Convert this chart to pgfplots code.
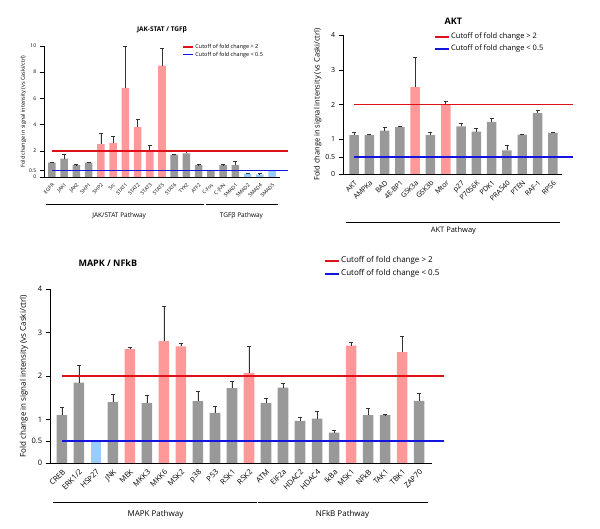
\documentclass[border=0pt]{standalone}
\usepackage{pgfplots}
\pgfplotsset{compat=1.18}
\usepackage{fontspec}
\setmainfont{Open Sans}
\usetikzlibrary{calc}
\definecolor{barg}{HTML}{999999}
\definecolor{barr}{HTML}{FF9999}
\definecolor{barb}{HTML}{99CCFF}
\definecolor{lred}{HTML}{E01018}
\definecolor{lblue}{HTML}{1414E0}
\pgfplotsset{
 common/.style={scale only axis, axis lines=left, ymin=0, clip=false,
  /pgf/number format/assume math mode=true,
  tick align=outside, xtick style={draw=none}, ytick style={black},
  axis line style={black,-}, x tick label style={rotate=45,anchor=north east,inner sep=1pt},
  error bars/y dir=plus, error bars/y explicit,
  error bars/error bar style={black!80,line width=0.7pt},
  error bars/error mark options={rotate=90,mark size=2pt,black!80,line width=0.7pt}},
 gb/.style={ybar,bar width=0.62,fill=barg,draw=none,bar shift=0pt,forget plot},
 rb/.style={ybar,bar width=0.62,fill=barr,draw=none,bar shift=0pt,forget plot},
 bb/.style={ybar,bar width=0.62,fill=barb,draw=none,bar shift=0pt,forget plot},
}
\newcommand{\cutlegend}[5]{%
  \fill[fill=lred] ($(#1)+(0,-#3*0.5-#5*0.5)$) rectangle ++(#4,#5);
  \node[anchor=west,font=#2,inner sep=0pt] at ($(#1)+(#4+2pt,-#3*0.5)$) {Cutoff of fold change > 2};
  \fill[fill=lblue] ($(#1)+(0,-#3*1.5-#5*0.5)$) rectangle ++(#4,#5);
  \node[anchor=west,font=#2,inner sep=0pt] at ($(#1)+(#4+2pt,-#3*1.5)$) {Cutoff of fold change < 0.5};
}
\newcommand{\cutlines}[3]{%
  \fill[fill=lred] ($(axis cs:#1,2)+(0,-#3)$) rectangle ($(axis cs:#2,2)+(0,#3)$);
  \fill[fill=lblue] ($(axis cs:#1,0.5)+(0,-#3)$) rectangle ($(axis cs:#2,0.5)+(0,#3)$);
}
\begin{document}
\begin{tikzpicture}
\path (0,0) rectangle (600pt,529pt);
% ---------- JAK-STAT ----------
\begin{axis}[common, at={(44pt,352pt)}, anchor=south west, width=236pt, height=131pt,
 ymax=10, xmin=-0.65, xmax=18.65, ytick={0,0.5,2,4,6,8,10}, xtick={0,...,18},
 yticklabel style={font=\fontsize{5}{6}\selectfont},
 xticklabel style={font=\fontsize{5}{6}\selectfont},
 xticklabels={EGFR,JAK1,JAK2,SHP1,SHP2,Src,STAT1,STAT2,STAT3,STAT5,STAT6,TYK2,ATF2,C-Fos,C-JUN,SMAD1,SMAD2,SMAD4,SMAD5},
 ylabel={Fold change in signal intensity (vs Caski/ctrl)}, ylabel style={font=\fontsize{5.5}{6}\selectfont, yshift=-4pt}]
\addplot[gb] coordinates {(0,1.1)+-(0,0.05) (1,1.4)+-(0,0.3) (2,0.9)+-(0,0.05) (3,1.1)+-(0,0.05) (10,1.7)+-(0,0.03) (11,1.8)+-(0,0.2) (12,0.9)+-(0,0.05) (13,0.5)+-(0,0.02) (14,0.9)+-(0,0.05) (15,0.9)+-(0,0.3)};
\addplot[rb] coordinates {(4,2.5)+-(0,0.8) (5,2.6)+-(0,0.5) (6,6.8)+-(0,3.2) (7,3.8)+-(0,0.6) (8,2.0)+-(0,0.45) (9,8.5)+-(0,1.3)};
\addplot[bb] coordinates {(16,0.25)+-(0,0.05) (17,0.2)+-(0,0.04) (18,0.5)+-(0,0.04)};
\cutlines{-0.65}{18.65}{0.8pt}
\draw[line width=0.7pt] (axis cs:-0.5,-2.06) -- (axis cs:12.4,-2.06);
\draw[line width=0.7pt] (axis cs:12.6,-2.06) -- (axis cs:18.5,-2.06);
\node[font=\fontsize{6.5}{7}\selectfont] at (axis cs:5.5,-2.95) {JAK/STAT Pathway};
\node[font=\fontsize{6.5}{7}\selectfont] at (axis cs:15.5,-2.95) {TGFβ Pathway};
\node[font=\bfseries\fontsize{6.5}{7}\selectfont] at (axis cs:9,11.2) {JAK-STAT / TGFβ};
\coordinate (L1) at (rel axis cs:0.59,1.02);
\end{axis}
\cutlegend{L1}{\fontsize{5.5}{7}\selectfont}{7.5pt}{10pt}{1.6pt}
% ---------- AKT ----------
\begin{axis}[common, at={(343pt,355pt)}, anchor=south west, width=219pt, height=139pt,
 ymax=4, xmin=-0.72, xmax=13.6, ytick={0,0.5,1,2,3,4}, xtick={0,...,13},
 yticklabel style={font=\fontsize{7}{8}\selectfont},
 xticklabel style={font=\fontsize{7}{8}\selectfont},
 xticklabels={AKT,AMPKa,BAD,4E-BP1,GSK3a,GSK3b,Mtor,p27,P70S6K,PDK1,PRAS40,PTEN,RAF-1,RPS6},
 ylabel={Fold change in signal intensity (vs Caski/ctrl)}, ylabel style={font=\fontsize{7.5}{8}\selectfont, yshift=-3pt}]
\addplot[gb] coordinates {(0,1.12)+-(0,0.08) (1,1.12)+-(0,0.02) (2,1.25)+-(0,0.08) (3,1.35)+-(0,0.02) (5,1.12)+-(0,0.08) (7,1.37)+-(0,0.08) (8,1.22)+-(0,0.1) (9,1.5)+-(0,0.1) (10,0.68)+-(0,0.15) (11,1.13)+-(0,0.02) (12,1.75)+-(0,0.07) (13,1.18)+-(0,0.02)};
\addplot[rb] coordinates {(4,2.5)+-(0,0.85) (6,2.0)+-(0,0.1)};
\cutlines{-0.72}{13.6}{0.9pt}
\draw[line width=1pt] (axis cs:-0.5,-1.41) -- (axis cs:13.5,-1.41);
\node[font=\fontsize{7.5}{8}\selectfont] at (axis cs:6.5,-1.62) {AKT Pathway};
\node[font=\bfseries\fontsize{9}{10}\selectfont] at (axis cs:6.5,4.4) {AKT};
\coordinate (L2) at (rel axis cs:0.42,1.03);
\end{axis}
\cutlegend{L2}{\fontsize{7.5}{9}\selectfont}{12pt}{14pt}{2pt}
% ---------- MAPK ----------
\begin{axis}[common, at={(50pt,66pt)}, anchor=south west, width=382pt, height=174pt,
 ymax=4, xmin=-0.7, xmax=21.76, ytick={0,0.5,1,2,3,4}, xtick={0,...,21},
 yticklabel style={font=\fontsize{7.5}{8}\selectfont},
 xticklabel style={font=\fontsize{7.5}{8}\selectfont},
 xticklabels={CREB,ERK1/2,HSP27,JNK,MEK,MKK3,MKK6,MSK2,p38,P53,RSK1,RSK2,ATM,EIF2a,HDAC2,HDAC4,IkBa,MSK1,NFkB,TAK1,TBK1,ZAP70},
 ylabel={Fold change in signal intensity (vs Caski/ctrl)}, ylabel style={font=\fontsize{8}{9}\selectfont, yshift=-3pt}]
\addplot[gb] coordinates {(0,1.1)+-(0,0.18) (1,1.85)+-(0,0.4) (3,1.4)+-(0,0.18) (5,1.38)+-(0,0.18) (8,1.42)+-(0,0.22) (9,1.15)+-(0,0.15) (10,1.72)+-(0,0.16) (12,1.38)+-(0,0.1) (13,1.73)+-(0,0.1) (14,0.97)+-(0,0.08) (15,1.02)+-(0,0.17) (16,0.7)+-(0,0.06) (18,1.1)+-(0,0.15) (19,1.1)+-(0,0.01) (21,1.43)+-(0,0.16)};
\addplot[rb] coordinates {(4,2.62)+-(0,0.03) (6,2.8)+-(0,0.8) (7,2.68)+-(0,0.07) (11,2.07)+-(0,0.6) (17,2.7)+-(0,0.08) (20,2.55)+-(0,0.35)};
\addplot[bb] coordinates {(2,0.5)+-(0,0)};
\cutlines{-0.7}{21.76}{1pt}
\draw[line width=1pt] (axis cs:-0.5,-0.9) -- (axis cs:11.45,-0.9);
\draw[line width=1pt] (axis cs:11.55,-0.9) -- (axis cs:21.5,-0.9);
\node[font=\fontsize{8}{9}\selectfont] at (axis cs:5.5,-1.18) {MAPK Pathway};
\node[font=\fontsize{8}{9}\selectfont] at (axis cs:16.5,-1.18) {NFkB Pathway};
\node[font=\bfseries\fontsize{9}{10}\selectfont] at (axis cs:2.7,4.6) {MAPK / NFkB};
\coordinate (L3) at (rel axis cs:0.72,1.2);
\end{axis}
\cutlegend{L3}{\fontsize{8}{10}\selectfont}{13pt}{14pt}{2.2pt}
\end{tikzpicture}
\end{document}
